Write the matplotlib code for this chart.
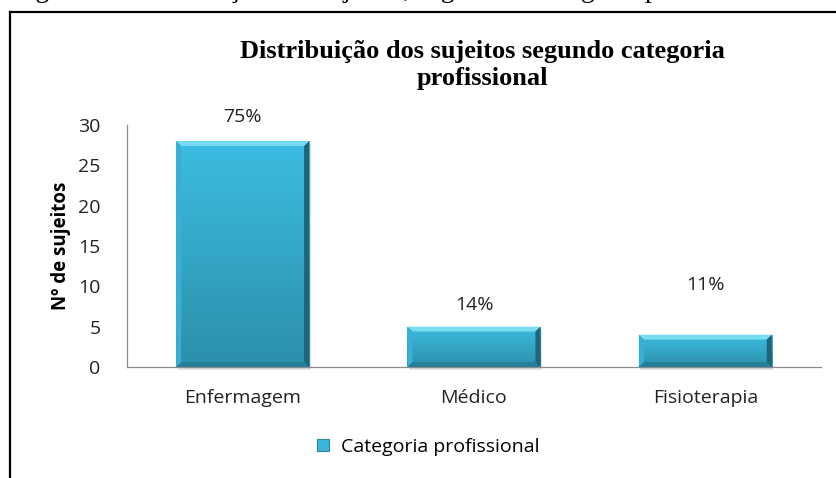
import numpy as np
import matplotlib.pyplot as plt
from matplotlib.colors import LinearSegmentedColormap
from matplotlib.patches import Polygon, Rectangle, Patch
from matplotlib.lines import Line2D

# dados
categorias = ["Enfermagem", "Médico", "Fisioterapia"]
sujeitos = [28, 5, 4]
percentagens = ["75%", "14%", "11%"]
y_ticks = [0, 5, 10, 15, 20, 25, 30]

# where the % labels sit (Excel did not put them at the same gap)
pos_rotulos = [31.0, 7.7, 10.2]

titulo = "Distribuição dos sujeitos segundo categoria\nprofissional"
legenda = "Categoria profissional"
legenda_fig = "Figura 1 - Distribuição dos sujeitos, segundo a categoria profissional"

W, H = 837, 478
FONTE = "Open Sans"
fig = plt.figure(figsize=(W / 100, H / 100), dpi=100)
fig.patch.set_facecolor("white")

# caption of the page, cut by the top of the picture
fig.text(12 / W, 1 + 3 / H, legenda_fig, ha="left", va="baseline", fontsize=20,
         family="Liberation Serif")

# frame of the chart (only left and top visible)
fig.add_artist(Line2D([10 / W, 10 / W], [0, 1 - 12 / H], color="black", lw=1.6))
fig.add_artist(Line2D([10 / W, 1], [1 - 12 / H, 1 - 12 / H], color="black", lw=1.6))

ax = fig.add_axes([127 / W, 1 - 367 / H, (821 - 127) / W, (367 - 125) / H])

x = np.arange(len(categorias))
bars = ax.bar(x, sujeitos, width=0.575, color="#37b0d4", zorder=2)

cmap = LinearSegmentedColormap.from_list("azul", ["#2c8faa", "#3cbde2"])
grad = np.linspace(0, 1, 100).reshape(-1, 1)
dx, dy = 0.022, 0.6
for b in bars:
    x0, y0 = b.get_x(), b.get_y()
    x1, y1 = x0 + b.get_width(), y0 + b.get_height()
    # shadow
    ax.add_patch(Rectangle((x0 + 0.006, y0 - 0.35), x1 - x0, y1 - y0,
                           color="#000000", alpha=0.12, lw=0, zorder=1, clip_on=False))
    im = ax.imshow(grad, cmap=cmap, origin="lower", extent=[x0, x1, y0, y1],
                   aspect="auto", zorder=3)
    im.set_clip_path(b)
    # bevel edges
    ax.add_patch(Polygon([(x0, y1), (x1, y1), (x1 - dx, y1 - dy), (x0 + dx, y1 - dy)],
                         color="#78dcf3", lw=0, zorder=4))
    ax.add_patch(Polygon([(x0, y0), (x0, y1), (x0 + dx, y1 - dy), (x0 + dx, y0 + dy)],
                         color="#3aafd3", lw=0, zorder=4))
    ax.add_patch(Polygon([(x1, y0), (x1, y1), (x1 - dx, y1 - dy), (x1 - dx, y0 + dy)],
                         color="#1f6478", lw=0, zorder=4))
    ax.add_patch(Polygon([(x0, y0), (x1, y0), (x1 - dx, y0 + dy), (x0 + dx, y0 + dy)],
                         color="#267f99", lw=0, zorder=4))

for xi, yl, txt in zip(x, pos_rotulos, percentagens):
    ax.text(xi, yl, txt, ha="center", va="center", fontsize=14, family=FONTE,
            color="#222222")

ax.set_xlim(-0.5, 2.5)
ax.set_ylim(0, 30)
ax.set_yticks(y_ticks)
ax.set_xticks(x)
ax.set_xticklabels(categorias)
for lab in ax.get_xticklabels() + ax.get_yticklabels():
    lab.set_family(FONTE)
    lab.set_fontsize(14)
    lab.set_color("#222222")
ax.tick_params(axis="y", length=0, pad=19)
ax.tick_params(axis="x", length=0, pad=16)

for s in ["top", "right"]:
    ax.spines[s].set_visible(False)
for s in ["left", "bottom"]:
    ax.spines[s].set_color("#8c8c8c")
    ax.spines[s].set_linewidth(0.9)

ax.set_ylabel("Nº de sujeitos", family=FONTE, fontsize=13.5, fontweight="bold",
              labelpad=5)

fig.text(482 / W, 1 - 65 / H, titulo, ha="center", va="center", fontsize=19,
         fontweight="bold", family="Liberation Serif", linespacing=1.25)

fig.legend(handles=[Patch(facecolor="#3ab6db", edgecolor="#2a88a3", lw=0.8)],
           labels=[legenda], loc="center left", bbox_to_anchor=(300 / W, 1 - 447 / H),
           frameon=False, handlelength=0.6, handleheight=0.6, handletextpad=0.6,
           prop={"family": FONTE, "size": 14})

fig.savefig("out.png", dpi=100)
